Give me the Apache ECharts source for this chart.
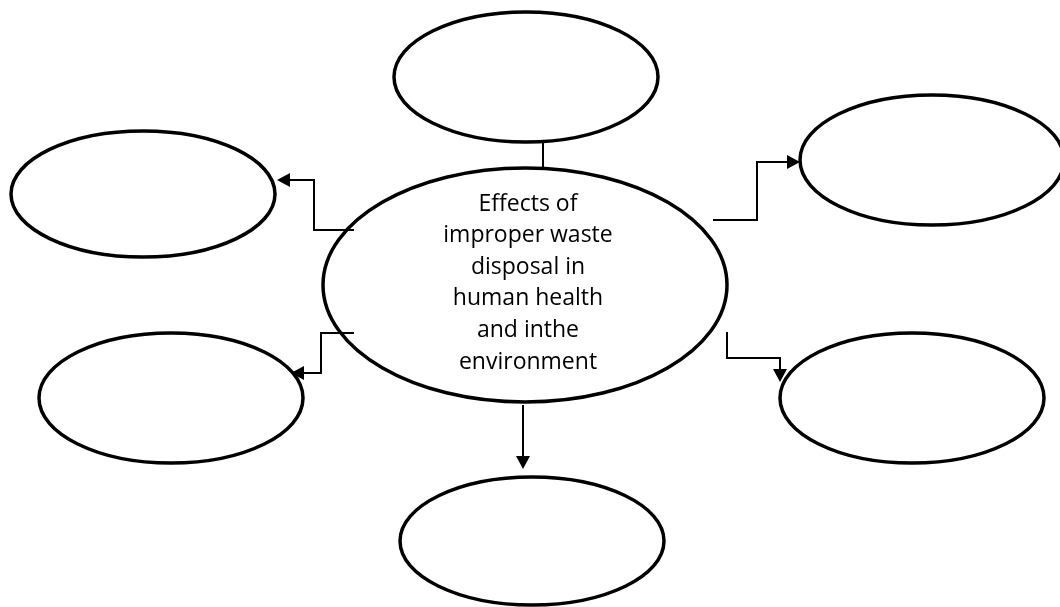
<!DOCTYPE html>
<html>
<head>
<meta charset="utf-8">
<script src="https://cdn.jsdelivr.net/npm/echarts@6/dist/echarts.min.js"></script>
<style>
    html, body { margin: 0; padding: 0; background: #fff; }
    #chart { width: 1060px; height: 607px; }
</style>
</head>
<body>
<div id="chart"></div>
<script>
    // bubbles: top, top-left, top-right, bottom-left, bottom-right, bottom, centre
    var nodeX  = [526, 143, 932, 171, 912, 532, 525];
    var nodeY  = [77, 194, 160, 398, 398, 541, 285];
    var nodeRX = [132, 132, 132, 132, 132, 132, 202];
    var nodeRY = [65, 63, 65, 65, 65, 64, 117];
    var nodeLabels = ['', '', '', '', '', '',
        'Effects of\nimproper waste\ndisposal in\nhuman health\nand inthe\nenvironment'];

    // elbow connectors, last point is the arrow tip
    var connectors = [
        [[543, 143], [543, 167]],
        [[354, 230], [314, 230], [314, 180], [277, 180]],
        [[354, 333], [321, 333], [321, 373], [291, 373]],
        [[713, 220], [757, 220], [757, 162], [800, 162]],
        [[727, 332], [727, 358], [780, 358], [780, 382]],
        [[523, 405], [523, 469]]
    ];
    var hasArrow = [false, true, true, true, true, true];

    var chart = echarts.init(document.getElementById('chart'));

    var nodeData = nodeX.map(function (x, i) {
        return [x, nodeY[i], nodeRX[i], nodeRY[i], i];
    });
    var linkData = connectors.map(function (pts, i) {
        return { value: [i], pts: pts };
    });

    function renderNode(params, api) {
        var c = api.coord([api.value(0), api.value(1)]);
        var s = api.size([api.value(2), api.value(3)]);
        var label = nodeLabels[api.value(4)];
        var children = [{
            type: 'ellipse',
            shape: { cx: c[0], cy: c[1], rx: s[0], ry: s[1] },
            style: { fill: 'none', stroke: '#000', lineWidth: 3.5 }
        }];
        if (label) {
            children.push({
                type: 'text',
                style: {
                    text: label,
                    x: c[0] + 3,
                    y: c[1] - 2,
                    align: 'center',
                    verticalAlign: 'middle',
                    fontFamily: 'Open Sans',
                    fontSize: 23,
                    lineHeight: 31.6,
                    fill: '#000'
                }
            });
        }
        return { type: 'group', children: children };
    }

    function renderLink(params, api) {
        var i = api.value(0);
        var pts = connectors[i].map(function (p) { return api.coord(p); });
        var children = [];
        var end = pts[pts.length - 1];
        var prev = pts[pts.length - 2];
        var dx = end[0] - prev[0], dy = end[1] - prev[1];
        var len = Math.sqrt(dx * dx + dy * dy);
        var ux = dx / len, uy = dy / len;
        var head = 13, half = 7;
        var linePts = pts.slice();
        if (hasArrow[i]) {
            var bx = end[0] - ux * head, by = end[1] - uy * head;
            linePts[linePts.length - 1] = [bx, by];
            children.push({
                type: 'polygon',
                shape: { points: [end, [bx - uy * half, by + ux * half], [bx + uy * half, by - ux * half]] },
                style: { fill: '#000' }
            });
        }
        children.unshift({
            type: 'polyline',
            shape: { points: linePts },
            style: { fill: 'none', stroke: '#000', lineWidth: 2 }
        });
        return { type: 'group', children: children };
    }

    var option = {
        animation: false,
        backgroundColor: '#fff',
        grid: { left: 0, right: 0, top: 0, bottom: 0 },
        xAxis: { type: 'value', min: 0, max: 1060, show: false },
        yAxis: { type: 'value', min: 0, max: 607, inverse: true, show: false },
        series: [
            {
                type: 'custom',
                renderItem: renderLink,
                data: linkData,
                clip: false,
                silent: true
            },
            {
                type: 'custom',
                renderItem: renderNode,
                data: nodeData,
                clip: false,
                silent: true
            }
        ]
    };

    chart.setOption(option);
</script>
</body>
</html>
